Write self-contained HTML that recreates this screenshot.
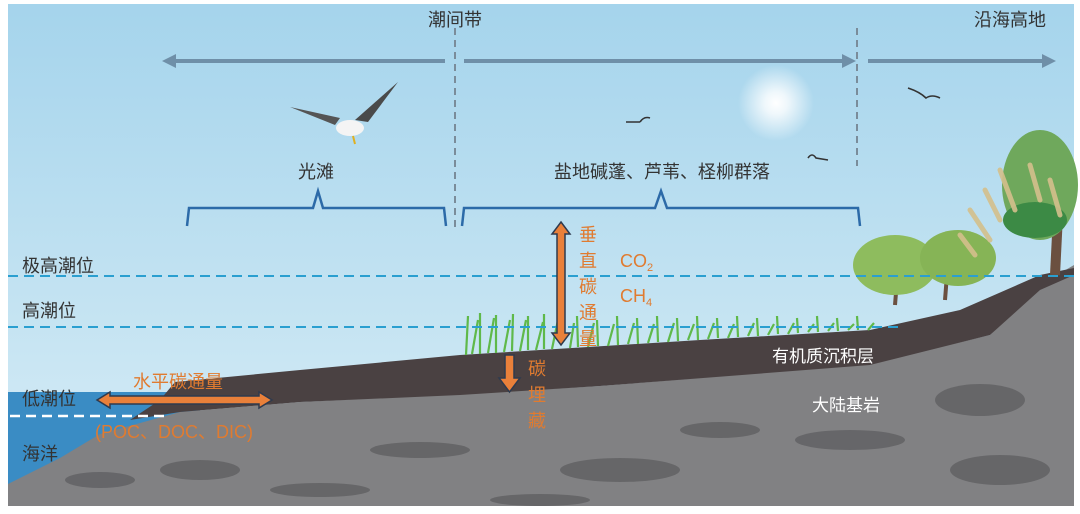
<!DOCTYPE html>
<html><head><meta charset="utf-8"><style>
html,body{margin:0;padding:0;background:#fff}
svg{display:block}
text{font-family:"Liberation Sans","Noto Sans CJK SC",sans-serif}
</style></head><body>
<svg width="1080" height="514" viewBox="0 0 1080 514" xmlns="http://www.w3.org/2000/svg">
<defs>
<linearGradient id="sky" x1="0" y1="0" x2="0" y2="1">
<stop offset="0" stop-color="#a5d4ec"/><stop offset="1" stop-color="#d8edf6"/>
</linearGradient>
<radialGradient id="sun"><stop offset="0" stop-color="#fff"/><stop offset="0.3" stop-color="#fff" stop-opacity="0.8"/><stop offset="1" stop-color="#fff" stop-opacity="0"/></radialGradient>
</defs>
<rect x="8" y="4" width="1066" height="502" fill="url(#sky)"/>
<circle cx="776" cy="103" r="38" fill="url(#sun)"/>
<polygon points="8,392 200,392 200,506 8,506" fill="#3a8cc4"/>
<polygon points="8,484 60,458 100,434 180,412 300,402 460,394 600,386 870,364 990,335 1040,285 1074,265 1074,506 8,506" fill="#818183"/>
<g fill="#5e5e60" opacity="0.75">
<ellipse cx="200" cy="470" rx="40" ry="10"/><ellipse cx="420" cy="450" rx="50" ry="8"/><ellipse cx="620" cy="470" rx="60" ry="12"/><ellipse cx="850" cy="440" rx="55" ry="10"/><ellipse cx="980" cy="400" rx="45" ry="16"/><ellipse cx="1000" cy="470" rx="50" ry="15"/><ellipse cx="320" cy="490" rx="50" ry="7"/><ellipse cx="720" cy="430" rx="40" ry="8"/><ellipse cx="100" cy="480" rx="35" ry="8"/><ellipse cx="540" cy="500" rx="50" ry="6"/>
</g>
<polygon points="160,400 175,382 300,370 460,355 700,340 870,330 960,310 1040,275 1074,268 1074,275 1040,290 990,335 870,365 600,386 460,395 300,402 180,412 130,420" fill="#4a4142"/>
<g stroke="#5fb94a" stroke-width="2.2">
<path d="M466,355 L468,316 M472,354 L478,320 M480,354 L480,313 M488,353 L494,318 M496,353 L496,315 M504,352 L510,320 M512,351 L513,314 M520,351 L526,320 M528,350 L528,316 M536,350 L543,322 M544,349 L544,314 M552,349 L558,320 M570,348 L574,323 M578,347 L577,316 M588,347 L594,323 M598,346 L597,320 M608,346 L614,324 M618,345 L617,316 M628,344 L634,323 M638,344 L637,318 M648,343 L654,324 M658,342 L657,316 M668,342 L674,323 M678,341 L677,318 M688,340 L694,324 M698,340 L697,316 M708,339 L714,323 M718,338 L717,318 M728,338 L734,324 M738,337 L737,316 M748,336 L754,323 M758,336 L757,318 M768,335 L774,324 M778,334 L777,316 M788,334 L794,323 M798,333 L797,318 M808,332 L814,324 M818,332 L817,316 M828,331 L834,323 M838,331 L837,318 M848,330 L854,324 M858,330 L857,316 M868,330 L874,323"/>
</g>
<g>
<path d="M895,305 L898,268 M945,300 L948,262" stroke="#6b5040" stroke-width="4"/>
<ellipse cx="895" cy="265" rx="42" ry="30" fill="#8ebc5e"/>
<ellipse cx="958" cy="258" rx="38" ry="28" fill="#86b456"/>
<path d="M1055,275 L1058,215" stroke="#6b5040" stroke-width="10"/>
<ellipse cx="1040" cy="185" rx="38" ry="55" fill="#6fa85c"/>
<ellipse cx="1035" cy="220" rx="32" ry="18" fill="#3c8a45"/>
<g stroke="#d4c08c" stroke-width="5" stroke-linecap="round" opacity="0.9">
<path d="M970,210 L990,240 M985,190 L1000,220 M1000,170 L1015,210 M1030,165 L1040,200 M1050,180 L1060,215 M960,235 L975,255"/>
</g>
</g>
<line x1="8" y1="276" x2="1074" y2="276" stroke="#2a9fd0" stroke-width="2" stroke-dasharray="10,6"/>
<line x1="8" y1="327" x2="900" y2="327" stroke="#2a9fd0" stroke-width="2" stroke-dasharray="10,6"/>
<line x1="10" y1="416" x2="170" y2="416" stroke="#fff" stroke-width="2.5" stroke-dasharray="10,6"/>
<line x1="455" y1="28" x2="455" y2="228" stroke="#7a8c9a" stroke-width="2" stroke-dasharray="7,5"/>
<line x1="857" y1="28" x2="857" y2="166" stroke="#7a8c9a" stroke-width="2" stroke-dasharray="7,5"/>
<g stroke="#6f8fa8" stroke-width="4" fill="#6f8fa8">
<line x1="172" y1="61" x2="445" y2="61"/><polygon points="162,61 176,54 176,68" stroke="none"/>
<line x1="464" y1="61" x2="845" y2="61"/><polygon points="856,61 842,54 842,68" stroke="none"/>
<line x1="868" y1="61" x2="1045" y2="61"/><polygon points="1056,61 1042,54 1042,68" stroke="none"/>
</g>
<g stroke="#2c6aa8" stroke-width="2.5" fill="none">
<path d="M187,226 L189,208 L313,208 L318,191 L323,208 L444,208 L446,226"/>
<path d="M462,226 L464,208 L655,208 L661,191 L667,208 L858,208 L860,226"/>
</g>
<g stroke="#333" stroke-width="1.6" fill="none">
<path d="M626,122 L640,122 M640,122 Q644,116 650,118"/>
<path d="M808,158 Q812,152 816,158 L828,160"/>
<path d="M908,88 Q920,92 926,98 Q932,94 940,98"/>
</g>
<g>
<path d="M290,107 L335,125 L340,118 Z" fill="#555"/>
<path d="M355,120 L398,82 L368,122 Z" fill="#4a4a4a"/>
<ellipse cx="350" cy="128" rx="14" ry="8" fill="#f4f4f4"/>
<path d="M353,136 L355,144" stroke="#e0b020" stroke-width="2"/>
</g>
<g font-size="18" fill="#333">
<text x="455" y="26" text-anchor="middle">潮间带</text>
<text x="1010" y="26" text-anchor="middle">沿海高地</text>
<text x="316" y="178" text-anchor="middle">光滩</text>
<text x="662" y="178" text-anchor="middle">盐地碱蓬、芦苇、柽柳群落</text>
<text x="22" y="272">极高潮位</text>
<text x="22" y="317">高潮位</text>
<text x="22" y="405">低潮位</text>
<text x="22" y="460">海洋</text>
</g>
<g font-size="17" fill="#fff">
<text x="772" y="362">有机质沉积层</text>
<text x="812" y="411">大陆基岩</text>
</g>
<g fill="#e9803a" stroke="#2e3a4e" stroke-width="1.5">
<polygon points="561,222 570,234 565,234 565,333 570,333 561,345 552,333 557,333 557,234 552,234"/>
<polygon points="505,355 514,355 514,378 520,378 509.5,392 499,378 505,378"/>
<polygon points="97,400 110,392 110,396 259,396 259,392 272,400 259,408 259,404 110,404 110,408"/>
</g>
<g font-size="18" fill="#e07b30">
<text x="579" y="241">垂</text><text x="579" y="267">直</text><text x="579" y="293">碳</text><text x="579" y="319">通</text><text x="579" y="345">量</text>
<text x="620" y="267">CO<tspan font-size="11" dy="4">2</tspan></text>
<text x="620" y="302">CH<tspan font-size="11" dy="4">4</tspan></text>
<text x="528" y="375">碳</text><text x="528" y="401">埋</text><text x="528" y="427">藏</text>
<text x="133" y="388">水平碳通量</text>
<text x="95" y="438">(POC、DOC、DIC)</text>
</g>
</svg>
</body></html>
